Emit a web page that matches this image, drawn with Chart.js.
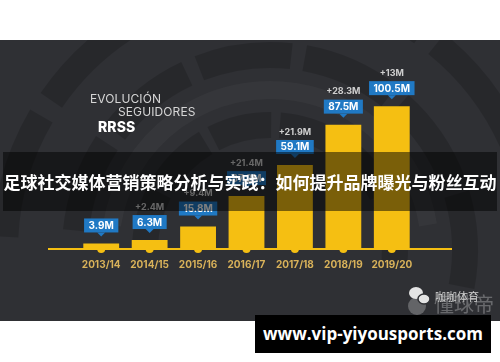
<!DOCTYPE html>
<html>
<head>
<meta charset="utf-8">
<script src="https://cdn.jsdelivr.net/npm/chart.js@4"></script>
<style>
  body { margin: 0; background: #fff; }
  #wrap { position: relative; width: 500px; height: 362px; overflow: hidden; font-family: Inter, "Open Sans", sans-serif; }
  #chart { position: absolute; left: 0; top: 0; }
  .title { position: absolute; color: #d6d6d6; font-size: 12px; letter-spacing: 0.1px; }
  .banner { position: absolute; left: 3px; top: 152px; width: 494px; height: 59px; background: rgba(0,0,0,0.5);
    color: #fff; font: bold 17px "Noto Sans CJK SC", sans-serif; line-height: 59px; text-align: center; white-space: nowrap; }
  .site { position: absolute; left: 255px; top: 315px; width: 236px; height: 38px; background: #000;
    color: #fff; font: bold 17px "Open Sans", sans-serif; line-height: 38px; text-align: center; }
  .wm { position: absolute; color: #d0d0d0; font-family: "Noto Sans CJK SC", sans-serif; white-space: nowrap; }
</style>
</head>
<body>
<div id="wrap">
  <canvas id="chart" width="500" height="362"></canvas>
  <div class="title" style="left:90px;top:91px;">EVOLUCIÓN</div>
  <div class="title" style="left:118px;top:104px;">SEGUIDORES</div>
  <div class="title" style="left:98px;top:118px;color:#fff;font-weight:800;font-size:14px;">RRSS</div>
  <div class="wm" style="left:434px;top:292px;font-size:20px;line-height:24px;color:rgba(255,255,255,0.28);">懂球帝</div>
  <div class="wm" style="left:435px;top:288px;font-size:11px;line-height:16px;">咖咖体育</div>
  <div class="banner">足球社交媒体营销策略分析与实践：如何提升品牌曝光与粉丝互动</div>
  <div class="site">www.vip-yiyousports.com</div>
</div>
<script>
const seasons = ['2013/14', '2014/15', '2015/16', '2016/17', '2017/18', '2018/19', '2019/20'];
const followers = [3.9, 6.3, 15.8, 37.2, 59.1, 87.5, 100.5];
const valueLabels = ['3.9M', '6.3M', '15.8M', '37.2M', '59.1M', '87.5M', '100.5M'];
const deltaLabels = ['', '+2.4M', '+9.4M', '+21.4M', '+21.9M', '+28.3M', '+13M'];

const YELLOW = '#f5bf12';
const BLUE = '#2079c4';

// dark panel with the faint round pattern behind the bars
const panel = {
  id: 'panel',
  beforeDraw(chart) {
    const ctx = chart.ctx;
    ctx.save();
    ctx.fillStyle = '#2f3034';
    ctx.fillRect(0, 40, 500, 281);
    ctx.beginPath();
    ctx.rect(0, 40, 500, 281);
    ctx.clip();
    ctx.lineWidth = 26;
    ctx.strokeStyle = 'rgba(0,0,0,0.16)';
    [[125, 0], [195, 0.1], [265, 0.05]].forEach(([r, off]) => {
      for (let k = 0; k < 6; k++) {
        const a0 = Math.PI + off + k * 0.55;
        ctx.beginPath();
        ctx.arc(270, 250, r, a0, a0 + 0.48);
        ctx.stroke();
      }
    });
    ctx.lineWidth = 18;
    ctx.strokeStyle = 'rgba(255,255,255,0.03)';
    ctx.beginPath();
    ctx.arc(270, 250, 160, Math.PI * 1.05, Math.PI * 1.95);
    ctx.stroke();

    // watermark icon (chat bubbles over a ball)
    ctx.fillStyle = 'rgba(255,255,255,0.25)';
    ctx.beginPath();
    ctx.arc(417, 306, 9, 0, Math.PI * 2);
    ctx.fill();
    ctx.fillStyle = '#e4e4e4';
    ctx.beginPath();
    ctx.ellipse(416, 293, 7, 6, 0, 0, Math.PI * 2);
    ctx.fill();
    ctx.strokeStyle = '#2f3034';
    ctx.lineWidth = 1.5;
    ctx.beginPath();
    ctx.ellipse(424, 299, 6, 5, 0, 0, Math.PI * 2);
    ctx.fill();
    ctx.stroke();
    ctx.restore();
  }
};

// baseline, dots and the blue value tags
const tags = {
  id: 'tags',
  afterDatasetsDraw(chart) {
    const ctx = chart.ctx;
    const area = chart.chartArea;
    const meta = chart.getDatasetMeta(0);
    ctx.save();
    ctx.fillStyle = YELLOW;
    ctx.fillRect(area.left - 29, area.bottom - 1, area.right - area.left + 65, 2);
    meta.data.forEach((bar, i) => {
      ctx.fillStyle = YELLOW;
      ctx.beginPath();
      ctx.arc(bar.x, area.bottom, 4, 0, Math.PI);
      ctx.fill();

      ctx.font = 'bold 10px Inter, sans-serif';
      const w = ctx.measureText(valueLabels[i]).width + 9;
      const bottom = bar.y - 11;
      const top = bottom - 14;
      ctx.fillStyle = BLUE;
      ctx.fillRect(bar.x - w / 2, top, w, 14);
      ctx.beginPath();
      ctx.moveTo(bar.x - 4, bottom);
      ctx.lineTo(bar.x + 4, bottom);
      ctx.lineTo(bar.x, bottom + 4);
      ctx.fill();
      ctx.fillStyle = '#fff';
      ctx.textAlign = 'center';
      ctx.textBaseline = 'middle';
      ctx.fillText(valueLabels[i], bar.x, top + 7.5);

      if (deltaLabels[i]) {
        ctx.font = 'bold 9px Inter, sans-serif';
        ctx.fillStyle = '#cfcfcf';
        ctx.fillText(deltaLabels[i], bar.x, top - 8);
      }
    });
    ctx.restore();
  }
};

new Chart(document.getElementById('chart'), {
  type: 'bar',
  data: {
    labels: seasons,
    datasets: [{
      data: followers,
      backgroundColor: YELLOW,
      barPercentage: 0.74,
      categoryPercentage: 1
    }]
  },
  options: {
    responsive: false,
    animation: false,
    layout: { padding: { left: 77, right: 84, top: 50, bottom: 81 } },
    plugins: { legend: { display: false }, tooltip: { enabled: false } },
    scales: {
      x: {
        grid: { display: false, drawTicks: false },
        border: { display: false },
        ticks: { color: '#d9b25a', padding: 10, font: { family: 'Inter', weight: 'bold', size: 10 } }
      },
      y: { display: false, min: 0, max: 140 }
    }
  },
  plugins: [panel, tags]
});
</script>
</body>
</html>
